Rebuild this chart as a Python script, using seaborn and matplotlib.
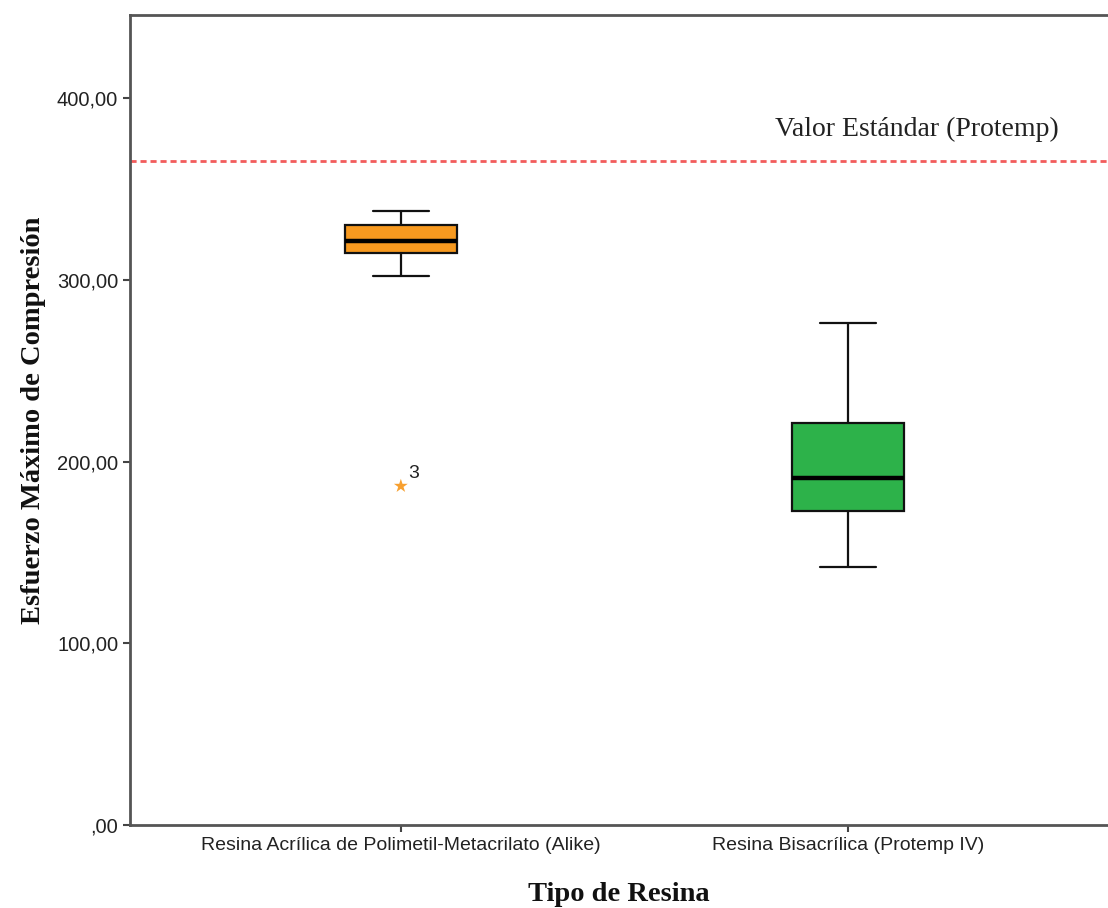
import numpy as np
import pandas as pd
import seaborn as sns
from matplotlib import pyplot as plt
from matplotlib.ticker import FuncFormatter

# five-number summaries (whisker low, Q1, median, Q3, whisker high)
categorias = ['Resina Acrílica de Polimetil-Metacrilato (Alike)',
              'Resina Bisacrílica (Protemp IV)']
alike = [302.1, 314.7, 321.3, 330.1, 337.8]
protemp = [142.0, 172.8, 190.9, 221.2, 276.2]
outlier_valor = [186.5]
outlier_caso = ['3']
valor_estandar = 365.3
colores = ['#f7991f', '#2db24a']

df = pd.DataFrame({
    'tipo': [categorias[0]] * len(alike) + [categorias[1]] * len(protemp),
    'valor': alike + protemp,
})
out_df = pd.DataFrame({'tipo': [categorias[0]] * len(outlier_valor), 'valor': outlier_valor})

sns.set_theme(style='ticks')
plt.rcParams['font.family'] = ['Liberation Sans', 'DejaVu Sans']

fig = plt.figure(figsize=(11.08, 9.08), dpi=100)
ax = fig.add_axes([0.1173, 0.0914, 0.8827, 0.8921])

sns.boxplot(data=df, x='tipo', y='valor', hue='tipo', palette=colores, order=categorias,
            hue_order=categorias, width=0.25, whis=np.inf, legend=False, ax=ax,
            saturation=1,
            boxprops={'edgecolor': '#111111', 'linewidth': 1.6},
            whiskerprops={'color': '#111111', 'linewidth': 1.6},
            capprops={'color': '#111111', 'linewidth': 1.6},
            medianprops={'color': 'black', 'linewidth': 3.2})

sns.scatterplot(data=out_df, x='tipo', y='valor', marker='*', s=110, color='#f7a030',
                edgecolor='none', ax=ax, legend=False)
for v, c in zip(outlier_valor, outlier_caso):
    ax.annotate(c, (0, v), xytext=(5, 6), textcoords='offset points',
                fontsize=14, color='#222222')

ax.axhline(valor_estandar, color='#f25c5c', ls=(0, (2.2, 1.4)), lw=2)
ax.text(1.154, 383, 'Valor Estándar (Protemp)', ha='center', va='center',
        fontsize=20, family='Liberation Serif', color='#222222')

ax.set_xlim(-0.606, 1.582)
ax.set_ylim(0, 445.7)
ax.set_yticks([0, 100, 200, 300, 400])
ax.yaxis.set_major_formatter(FuncFormatter(
    lambda v, p: ',00' if v == 0 else f'{v:.2f}'.replace('.', ',')))

ax.set_xlabel('Tipo de Resina', fontsize=20.5, fontweight='bold', family='Liberation Serif',
              labelpad=20, color='#111111')
ax.set_ylabel('Esfuerzo Máximo de Compresión', fontsize=20.5, fontweight='bold',
              family='Liberation Serif', labelpad=8, color='#111111')
ax.tick_params(axis='both', direction='out', length=5, width=1.5, color='#444444',
               labelcolor='#222222')
ax.tick_params(axis='x', labelsize=14)
ax.tick_params(axis='y', labelsize=14.5)

for s in ['left', 'bottom', 'top']:
    ax.spines[s].set_color('#555555')
    ax.spines[s].set_linewidth(2)
ax.spines['right'].set_visible(False)

fig.savefig('out.png', dpi=100)
